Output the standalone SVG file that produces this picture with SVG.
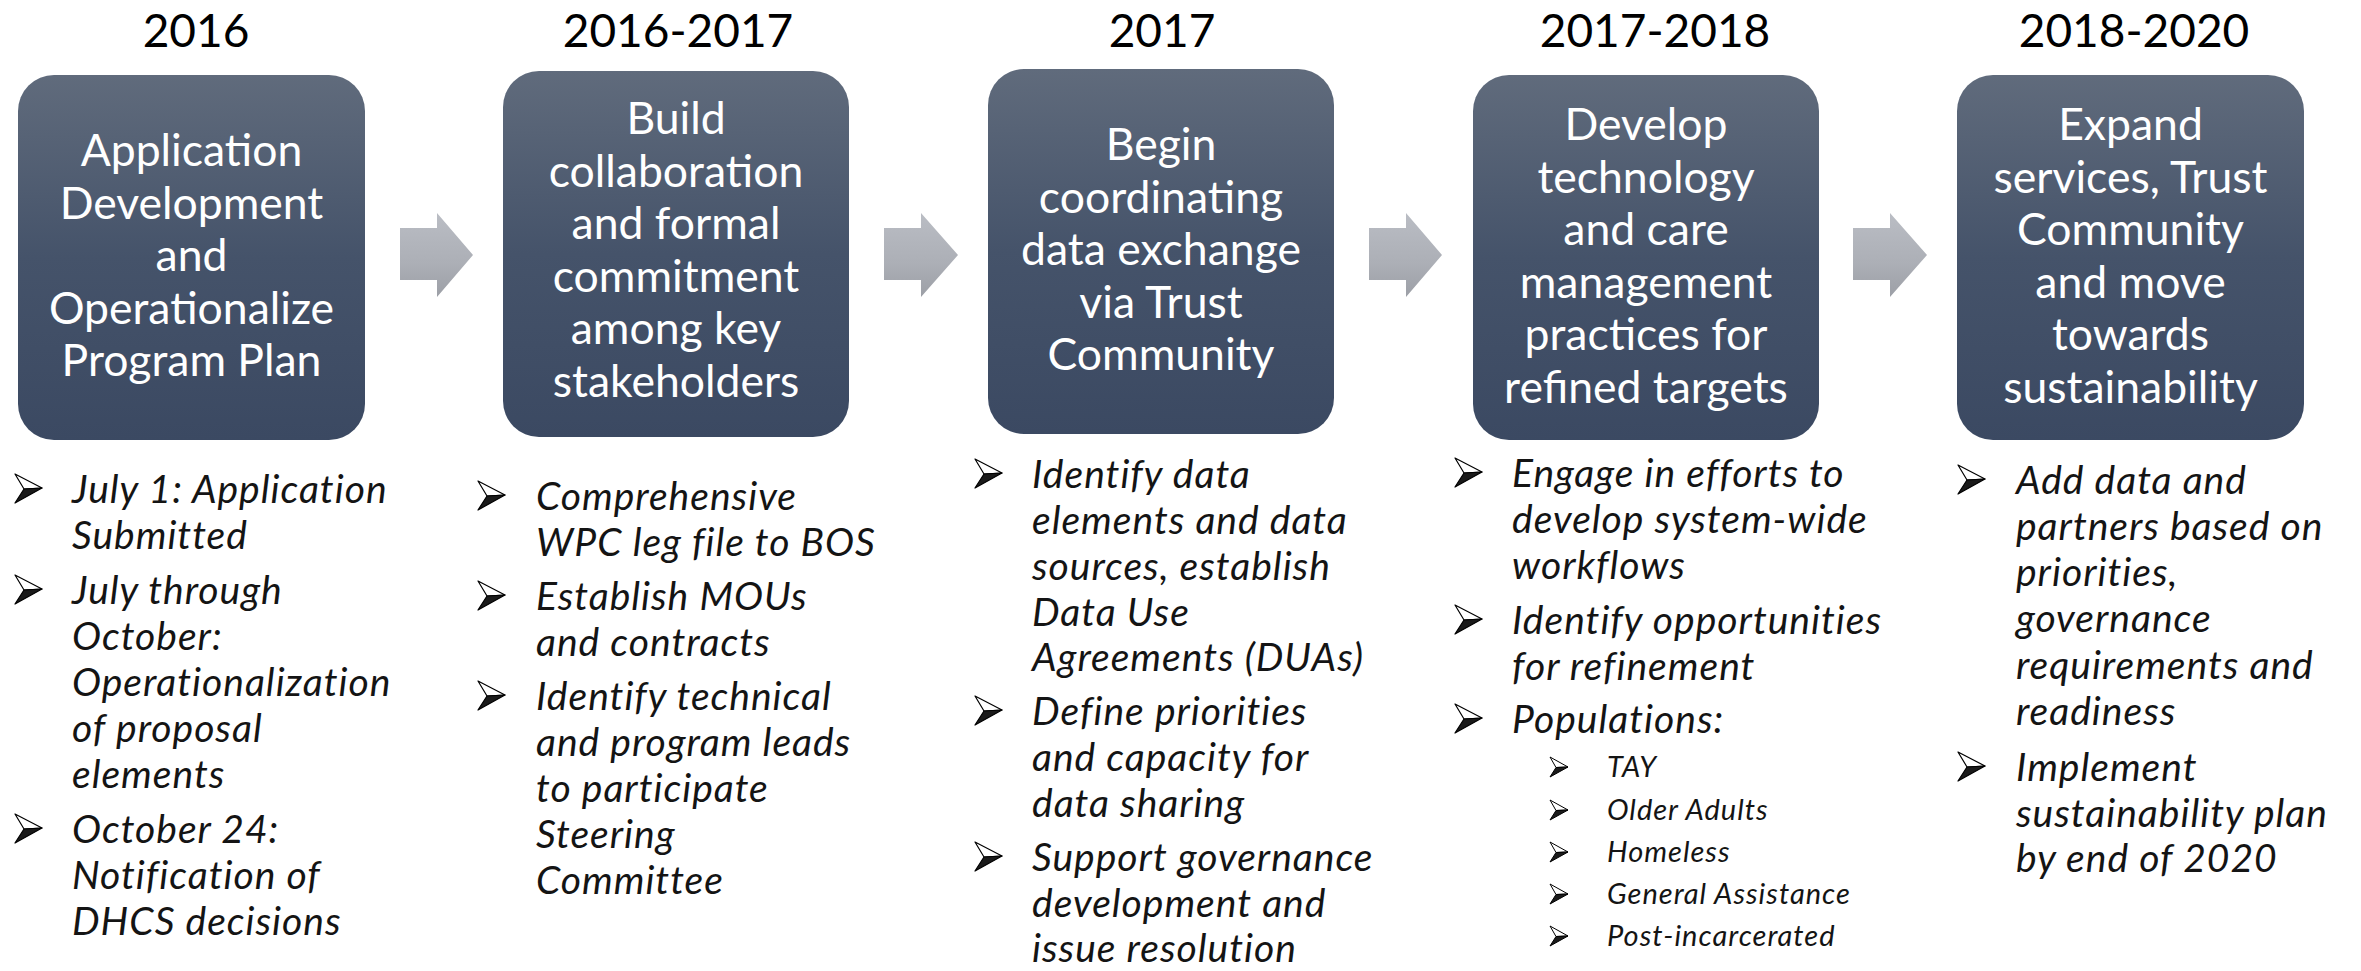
<svg xmlns="http://www.w3.org/2000/svg" xmlns:xlink="http://www.w3.org/1999/xlink" width="2361" height="971" viewBox="0 0 2361 971">
<defs>
<linearGradient id="boxg" x1="0" y1="0" x2="0" y2="1">
<stop offset="0" stop-color="#606b7c"/>
<stop offset="0.5" stop-color="#45536a"/>
<stop offset="1" stop-color="#3b4962"/>
</linearGradient>
<linearGradient id="arrg" x1="0" y1="0" x2="0" y2="1">
<stop offset="0" stop-color="#babdc4"/>
<stop offset="0.6" stop-color="#acafb6"/>
<stop offset="1" stop-color="#9c9fa6"/>
</linearGradient>
<g id="blt">
<polygon points="0,-29 27,-15 9,-14" fill="#ffffff" stroke="#000" stroke-width="1.2" stroke-linejoin="round"/>
<polygon points="9,-14 27,-15 0,0" fill="#1a1a1a" stroke="#000" stroke-width="1.2" stroke-linejoin="round"/>
</g>
<g id="sblt">
<polygon points="0,-20 18,-10 6,-9.5" fill="#ffffff" stroke="#000" stroke-width="1" stroke-linejoin="round"/>
<polygon points="6,-9.5 18,-10 0,0" fill="#1a1a1a" stroke="#000" stroke-width="1" stroke-linejoin="round"/>
</g>
</defs>
<style>
.yr{font-family:Lato,"Liberation Sans",sans-serif;font-size:46px;fill:#000;text-anchor:middle}
.bx{fill:url(#boxg)}
.bt{font-family:Lato,"Liberation Sans",sans-serif;font-size:44.5px;fill:#ffffff;text-anchor:middle}
.it{font-family:Lato,"Liberation Sans",sans-serif;font-size:39px;letter-spacing:1px;font-style:italic;fill:#141414}
.sit{font-family:Lato,"Liberation Sans",sans-serif;font-size:29px;letter-spacing:1px;font-style:italic;fill:#141414}
.ar{fill:url(#arrg)}
</style>
<rect width="2361" height="971" fill="#ffffff"/>

<g id="connectors">
<polygon class="ar" points="400,228 437,228 437,213 473,255 437,297 437,280 400,280"/>
<polygon class="ar" points="884,228 921,228 921,213 958,255 921,297 921,280 884,280"/>
<polygon class="ar" points="1369,228 1406,228 1406,213 1442,255 1406,297 1406,280 1369,280"/>
<polygon class="ar" points="1853,228 1890,228 1890,213 1927,255 1890,297 1890,280 1853,280"/>
</g>

<g id="node-2016">
<text class="yr" x="196" y="47">2016</text>
<rect class="bx" x="18" y="75" width="347" height="365" rx="36"/>
<text class="bt"><tspan x="191.5" y="166">Application</tspan><tspan x="191.5" y="218.5">Development</tspan><tspan x="191.5" y="271">and</tspan><tspan x="191.5" y="323.5">Operationalize</tspan><tspan x="191.5" y="376">Program Plan</tspan></text>
<use href="#blt" x="15" y="503"/>
<use href="#blt" x="15" y="604"/>
<use href="#blt" x="15" y="843"/>
<text class="it"><tspan x="72" y="503">July 1: Application</tspan><tspan x="72" y="549">Submitted</tspan><tspan x="72" y="604">July through</tspan><tspan x="72" y="650">October:</tspan><tspan x="72" y="696">Operationalization</tspan><tspan x="72" y="742">of proposal</tspan><tspan x="72" y="788">elements</tspan><tspan x="72" y="843">October 24:</tspan><tspan x="72" y="889">Notification of</tspan><tspan x="72" y="935">DHCS decisions</tspan></text>
</g>

<g id="node-2016-2017">
<text class="yr" x="678" y="47">2016-2017</text>
<rect class="bx" x="503" y="71" width="346" height="366" rx="36"/>
<text class="bt"><tspan x="676" y="134">Build</tspan><tspan x="676" y="186.5">collaboration</tspan><tspan x="676" y="239">and formal</tspan><tspan x="676" y="291.5">commitment</tspan><tspan x="676" y="344">among key</tspan><tspan x="676" y="396.5">stakeholders</tspan></text>
<use href="#blt" x="478" y="510"/>
<use href="#blt" x="478" y="610"/>
<use href="#blt" x="478" y="710"/>
<text class="it"><tspan x="536" y="510">Comprehensive</tspan><tspan x="536" y="556">WPC leg file to BOS</tspan><tspan x="536" y="610">Establish MOUs</tspan><tspan x="536" y="656">and contracts</tspan><tspan x="536" y="710">Identify technical</tspan><tspan x="536" y="756">and program leads</tspan><tspan x="536" y="802">to participate</tspan><tspan x="536" y="848">Steering</tspan><tspan x="536" y="894">Committee</tspan></text>
</g>

<g id="node-2017">
<text class="yr" x="1162" y="47">2017</text>
<rect class="bx" x="988" y="69" width="346" height="365" rx="36"/>
<text class="bt"><tspan x="1161" y="160">Begin</tspan><tspan x="1161" y="212.5">coordinating</tspan><tspan x="1161" y="265">data exchange</tspan><tspan x="1161" y="317.5">via Trust</tspan><tspan x="1161" y="370">Community</tspan></text>
<use href="#blt" x="975" y="488"/>
<use href="#blt" x="975" y="725"/>
<use href="#blt" x="975" y="871"/>
<text class="it"><tspan x="1032" y="488">Identify data</tspan><tspan x="1032" y="534">elements and data</tspan><tspan x="1032" y="580">sources, establish</tspan><tspan x="1032" y="626">Data Use</tspan><tspan x="1032" y="671">Agreements (DUAs)</tspan><tspan x="1032" y="725">Define priorities</tspan><tspan x="1032" y="771">and capacity for</tspan><tspan x="1032" y="817">data sharing</tspan><tspan x="1032" y="871">Support governance</tspan><tspan x="1032" y="917">development and</tspan><tspan x="1032" y="962">issue resolution</tspan></text>
</g>

<g id="node-2017-2018">
<text class="yr" x="1655" y="47">2017-2018</text>
<rect class="bx" x="1473" y="75" width="346" height="365" rx="36"/>
<text class="bt"><tspan x="1646" y="140">Develop</tspan><tspan x="1646" y="192.5">technology</tspan><tspan x="1646" y="245">and care</tspan><tspan x="1646" y="297.5">management</tspan><tspan x="1646" y="350">practices for</tspan><tspan x="1646" y="402.5">refined targets</tspan></text>
<use href="#blt" x="1455" y="487"/>
<use href="#blt" x="1455" y="634"/>
<use href="#blt" x="1455" y="733"/>
<text class="it"><tspan x="1512" y="487">Engage in efforts to</tspan><tspan x="1512" y="533">develop system-wide</tspan><tspan x="1512" y="579">workflows</tspan><tspan x="1512" y="634">Identify opportunities</tspan><tspan x="1512" y="680">for refinement</tspan><tspan x="1512" y="733">Populations:</tspan></text>
<use href="#sblt" x="1550" y="777"/>
<use href="#sblt" x="1550" y="820"/>
<use href="#sblt" x="1550" y="862"/>
<use href="#sblt" x="1550" y="904"/>
<use href="#sblt" x="1550" y="946"/>
<text class="sit"><tspan x="1607" y="777">TAY</tspan><tspan x="1607" y="820">Older Adults</tspan><tspan x="1607" y="862">Homeless</tspan><tspan x="1607" y="904">General Assistance</tspan><tspan x="1607" y="946">Post-incarcerated</tspan></text>
</g>

<g id="node-2018-2020">
<text class="yr" x="2134" y="47">2018-2020</text>
<rect class="bx" x="1957" y="75" width="347" height="365" rx="36"/>
<text class="bt"><tspan x="2130.5" y="140">Expand</tspan><tspan x="2130.5" y="192.5">services, Trust</tspan><tspan x="2130.5" y="245">Community</tspan><tspan x="2130.5" y="297.5">and move</tspan><tspan x="2130.5" y="350">towards</tspan><tspan x="2130.5" y="402.5">sustainability</tspan></text>
<use href="#blt" x="1958" y="494"/>
<use href="#blt" x="1958" y="781"/>
<text class="it"><tspan x="2016" y="494">Add data and</tspan><tspan x="2016" y="540">partners based on</tspan><tspan x="2016" y="586">priorities,</tspan><tspan x="2016" y="632">governance</tspan><tspan x="2016" y="679">requirements and</tspan><tspan x="2016" y="725">readiness</tspan><tspan x="2016" y="781">Implement</tspan><tspan x="2016" y="827">sustainability plan</tspan><tspan x="2016" y="872">by end of 2020</tspan></text>
</g>
</svg>
